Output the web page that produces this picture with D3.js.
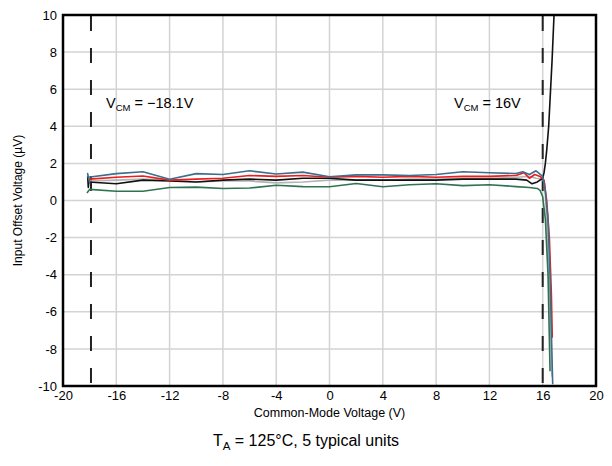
<!DOCTYPE html>
<html><head><meta charset="utf-8">
<script src="https://cdn.jsdelivr.net/npm/d3@7"></script>
<style>body{margin:0;background:#fff;} text{font-family:"Liberation Sans",Arial,sans-serif;}</style>
</head><body><svg id="c" width="612" height="466"></svg>
<script>
const xTicks = [-20,-16,-12,-8,-4,0,4,8,12,16,20];
const yTicks = [-10,-8,-6,-4,-2,0,2,4,6,8,10];
const vcmLines = [-17.9, 16];
const seriesNames = ["gray","black","red","blue","green"];
const grayX = [-18.1,-18.0,-16,-14,-12,-10,-8,-6,-4,-2,0,2,4,6,8,10,12,14,15,15.5,16.0,16.15,16.3,16.5,16.7];
const grayY = [1.0,1.05,1.1,1.15,1.1,1.0,1.05,1.05,0.95,1.0,1.1,1.1,1.1,1.15,1.15,1.2,1.2,1.25,1.3,1.2,1.15,0.9,-1,-5,-9.5];
const blackX = [-18.15,-18.1,-18.05,-18.1,-16,-14,-12,-10,-8,-6,-4,-2,0,2,4,6,8,10,12,14,14.8,15.2,15.6,16.0,16.1,16.2,16.3,16.45,16.55,16.7,16.85];
const blackY = [1.3,0.7,1.1,1.0,0.9,1.1,1.05,1.0,1.1,1.15,1.1,1.2,1.2,1.1,1.1,1.1,1.1,1.15,1.15,1.15,1.1,0.9,1.0,1.2,1.5,2.0,2.7,4.0,5.4,7.5,10];
const redX = [-18.1,-18.0,-16,-14,-12,-10,-8,-6,-4,-2,0,2,4,6,8,10,12,14,14.6,15,15.4,15.8,16.1,16.3,16.5,16.65,16.72];
const redY = [1.1,1.15,1.25,1.32,1.1,1.15,1.2,1.35,1.3,1.35,1.25,1.3,1.25,1.3,1.25,1.3,1.3,1.35,1.5,1.2,1.4,1.3,1.1,0,-2,-5,-7.4];
const blueX = [-18.1,-18.15,-18.0,-18.1,-16,-14,-12,-10,-8,-6,-4,-2,0,2,4,6,8,10,12,14,14.5,15,15.5,16.0,16.2,16.4,16.55,16.65,16.75];
const blueY = [1.2,1.45,0.95,1.25,1.45,1.55,1.15,1.45,1.4,1.6,1.43,1.53,1.28,1.38,1.38,1.35,1.4,1.55,1.5,1.45,1.55,1.4,1.6,1.3,0.5,-1,-4,-7,-9.9];
const greenX = [-18.2,-18.0,-16,-14,-12,-10,-8,-6,-4,-2,0,2,4,6,8,10,12,14,15,15.6,15.8,16.0,16.2,16.4,16.55];
const greenY = [0.4,0.6,0.5,0.5,0.7,0.72,0.65,0.67,0.82,0.75,0.74,0.92,0.74,0.85,0.9,0.8,0.85,0.75,0.7,0.65,0.55,0.2,-1,-4,-9.2];
const seriesX = [grayX, blackX, redX, blueX, greenX];
const seriesY = [grayY, blackY, redY, blueY, greenY];
const colors = ["#b4b4b4","#111111","#ee1c1c","#3d6e8c","#2f7352"];

const svg = d3.select("#c");
const L = 63, R = 596, T = 15, B = 386;
const x = d3.scaleLinear().domain([-20,20]).range([L,R]);
const y = d3.scaleLinear().domain([-10,10]).range([B,T]);

// grid
svg.append("g").selectAll("line").data(xTicks.slice(1,-1)).join("line")
  .attr("x1",d=>x(d)).attr("x2",d=>x(d)).attr("y1",T).attr("y2",B)
  .attr("stroke","#d3d3d3").attr("stroke-width",1.5);
svg.append("g").selectAll("line").data(yTicks.slice(1,-1)).join("line")
  .attr("y1",d=>y(d)).attr("y2",d=>y(d)).attr("x1",L).attr("x2",R)
  .attr("stroke","#d3d3d3").attr("stroke-width",1.5);

// vcm dashed lines
svg.append("g").selectAll("line").data(vcmLines).join("line")
  .attr("x1",d=>x(d)).attr("x2",d=>x(d)).attr("y1",T+1).attr("y2",B-1)
  .attr("stroke","#222").attr("stroke-width",2).attr("stroke-dasharray","15,17");

// series
const line = d3.line().x(d=>x(d[0])).y(d=>y(d[1]));
seriesX.forEach((xs,i)=>{
  const pts = xs.map((v,j)=>[v, seriesY[i][j]]);
  svg.append("path").datum(pts).attr("d",line).attr("fill","none")
    .attr("stroke",colors[i]).attr("stroke-width",1.6).attr("stroke-linejoin","round");
});

svg.append("rect").attr("x",L).attr("y",T).attr("width",R-L).attr("height",B-T)
  .attr("fill","none").attr("stroke","#000").attr("stroke-width",2.5);

// axes ticks
const fmt = d => String(d);
const xa = svg.append("g").attr("transform",`translate(0,${B})`)
  .call(d3.axisBottom(x).tickValues(xTicks).tickSize(0).tickPadding(5).tickFormat(fmt));
xa.select(".domain").remove();
xa.selectAll("text").attr("font-size",13).attr("fill","#000").attr("font-family","Liberation Sans, Arial, sans-serif");
const ya = svg.append("g").attr("transform",`translate(${L},0)`)
  .call(d3.axisLeft(y).tickValues(yTicks).tickSize(0).tickPadding(6).tickFormat(fmt));
ya.select(".domain").remove();
ya.selectAll("text").attr("font-size",13).attr("fill","#000").attr("font-family","Liberation Sans, Arial, sans-serif");

// labels
svg.append("text").attr("x",(L+R)/2).attr("y",417).attr("text-anchor","middle")
  .attr("font-size",12.5).text("Common-Mode Voltage (V)");
svg.append("text").attr("transform",`translate(22,${(T+B)/2}) rotate(-90)`).attr("text-anchor","middle")
  .attr("font-size",12).text("Input Offset Voltage (µV)");

const t = svg.append("text").attr("x",306).attr("y",446).attr("text-anchor","middle").attr("font-size",16);
t.append("tspan").text("T");
t.append("tspan").attr("font-size",11.5).attr("dy",4).text("A");
t.append("tspan").attr("dy",-4).text(" = 125°C, 5 typical units");

function vcm(xp, val){
  const a = svg.append("text").attr("x",xp).attr("y",108).attr("font-size",14.5);
  a.append("tspan").text("V");
  a.append("tspan").attr("font-size",9.5).attr("dy",3).text("CM");
  a.append("tspan").attr("dy",-3).text(" = " + val);
}
vcm(106, "\u221218.1V");
vcm(454, "16V");
</script></body></html>
